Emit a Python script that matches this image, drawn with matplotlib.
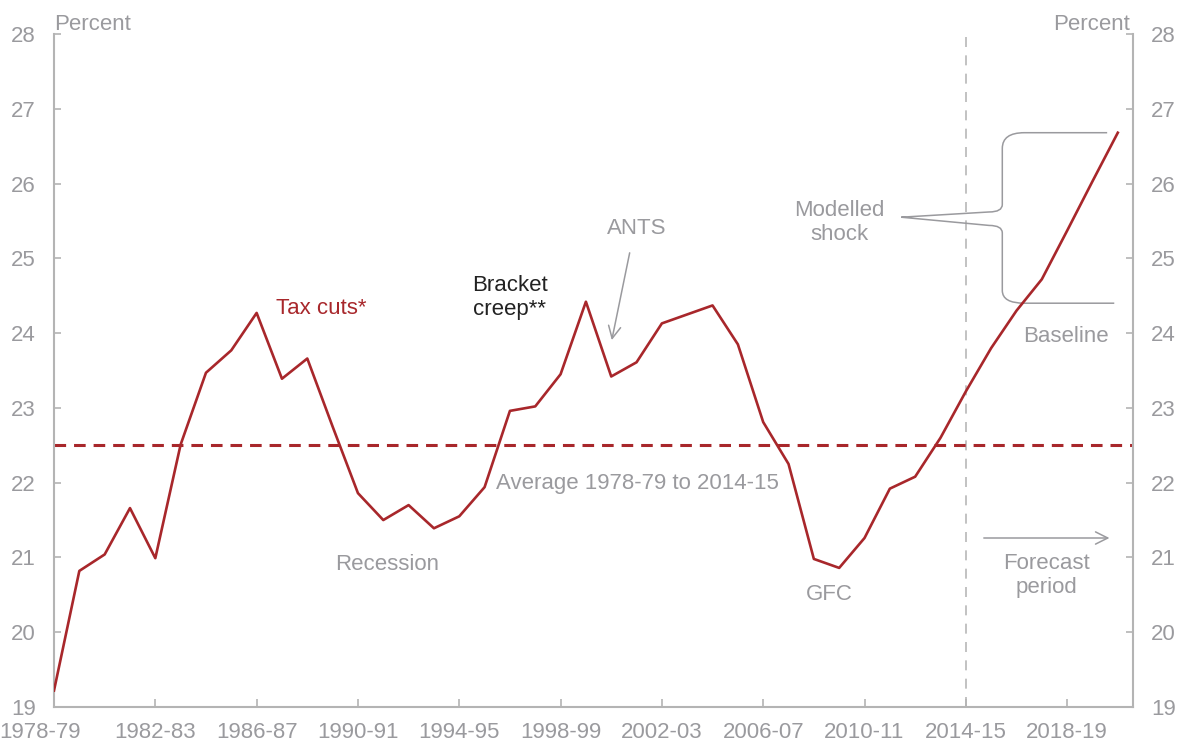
import matplotlib
matplotlib.use("agg")
import matplotlib.pyplot as plt
import matplotlib.transforms as mtransforms
from matplotlib.path import Path
from matplotlib.patches import PathPatch

plt.rcParams["font.family"] = ["Liberation Sans", "DejaVu Sans"]

# Financial years 1978-79 .. 2020-21
years = [f"{y}-{str(y + 1)[-2:]}" for y in range(1978, 2021)]
tax_share = [
    19.22, 20.82, 21.04, 21.66, 20.99, 22.51, 23.47, 23.77, 24.27, 23.39,
    23.66, 22.75, 21.86, 21.50, 21.70, 21.39, 21.55, 21.94, 22.96, 23.02,
    23.45, 24.42, 23.42, 23.61, 24.13, 24.25, 24.37, 23.85, 22.81, 22.25,
    20.98, 20.86, 21.26, 21.92, 22.08, 22.60, 23.22, 23.80, 24.30, 24.72,
    25.37, 26.03, 26.68,
]
average = 22.5
forecast_start = "2014-15"
baseline_end = 24.4
tick_labels = years[::4]
y_ticks = list(range(19, 29))

RED = "#a8272b"
GREY = "#9a9a9e"
SPINE = "#b4b4b4"
FS = 16

fig = plt.figure(figsize=(11.78, 7.45), dpi=100)
ax = fig.add_axes([54 / 1178, 1 - 707 / 745, (1133 - 54) / 1178, (707 - 34) / 745])

x = list(range(len(years)))
ax.plot(x, tax_share, color=RED, lw=1.9, zorder=3, solid_joinstyle="round")
ax.axhline(average, color=RED, lw=2.2, ls=(0, (3.8, 2.6)), zorder=2)
fc = years.index(forecast_start)
ax.axvline(fc, color="#b8b8b8", lw=1.2, ls=(0, (6, 5)), zorder=1)

ax.set_xlim(0, 42.6)
ax.set_ylim(19, 28)
ax.set_xticks(range(0, len(years), 4))
ax.set_xticklabels(tick_labels)
ax.set_yticks(y_ticks)

ax.spines["top"].set_visible(False)
for s in ("left", "right", "bottom"):
    ax.spines[s].set_color(SPINE)
    ax.spines[s].set_linewidth(1.5)

ax.tick_params(axis="x", direction="in", length=6, width=1.2, color=SPINE,
               labelcolor=GREY, labelsize=FS, pad=11)
ax.tick_params(axis="y", direction="in", length=5, width=1.2, color=SPINE,
               labelcolor=GREY, labelsize=FS, pad=13, right=True, labelright=True)

# first label sits a little left of its tick in the original
first = ax.get_xticklabels()[0]
first.set_transform(first.get_transform()
                    + mtransforms.ScaledTranslation(-14 / 100, 0, fig.dpi_scale_trans))

ax.text(0, 0.998, "Percent", transform=ax.transAxes, color=GREY, fontsize=FS,
        ha="left", va="bottom")
ax.text(0.997, 0.998, "Percent", transform=ax.transAxes, color=GREY, fontsize=FS,
        ha="right", va="bottom")

# annotations
ax.text(10.56, 24.33, "Tax cuts*", color=RED, fontsize=FS, ha="center", va="center")
ax.text(18.0, 24.48, "Bracket\ncreep**", color="#222222", fontsize=FS,
        ha="center", va="center")
ax.text(23.0, 25.4, "ANTS", color=GREY, fontsize=FS, ha="center", va="center")
ax.annotate("", xy=(22.0, 23.87), xytext=(22.75, 25.11),
            arrowprops=dict(arrowstyle="->", color=GREY, lw=1.1,
                            mutation_scale=22))
ax.text(13.16, 20.91, "Recession", color=GREY, fontsize=FS, ha="center", va="center")
ax.text(23.03, 21.99, "Average 1978-79 to 2014-15", color=GREY, fontsize=FS,
        ha="center", va="center")
ax.text(30.6, 20.51, "GFC", color=GREY, fontsize=FS, ha="center", va="center")
ax.text(39.2, 20.76, "Forecast\nperiod", color=GREY, fontsize=FS,
        ha="center", va="center")
ax.annotate("", xy=(41.78, 21.26), xytext=(36.6, 21.26),
            arrowprops=dict(arrowstyle="->", color=GREY, lw=1.1,
                            mutation_scale=22))
ax.text(31.0, 25.48, "Modelled\nshock", color=GREY, fontsize=FS,
        ha="center", va="center")
ax.text(39.97, 23.96, "Baseline", color=GREY, fontsize=FS, ha="center", va="center")

# curly brace between baseline and shocked path
top = tax_share[-1]
bx = 37.44
tip = (33.45, 25.55)
verts = [
    tip, (36.92, 25.62), (bx, 25.62), (bx, 25.72), (bx, 26.47),
    (bx, top), (38.31, top), (41.58, top),
    tip, (36.92, 25.44), (bx, 25.44), (bx, 25.34), (bx, 24.57),
    (bx, baseline_end), (38.31, baseline_end), (41.86, baseline_end),
]
codes = [
    Path.MOVETO, Path.LINETO, Path.CURVE3, Path.CURVE3, Path.LINETO,
    Path.CURVE3, Path.CURVE3, Path.LINETO,
    Path.MOVETO, Path.LINETO, Path.CURVE3, Path.CURVE3, Path.LINETO,
    Path.CURVE3, Path.CURVE3, Path.LINETO,
]
ax.add_patch(PathPatch(Path(verts, codes), fill=False, edgecolor=GREY, lw=1.1,
                       zorder=2))

fig.savefig("out.png", dpi=100)
